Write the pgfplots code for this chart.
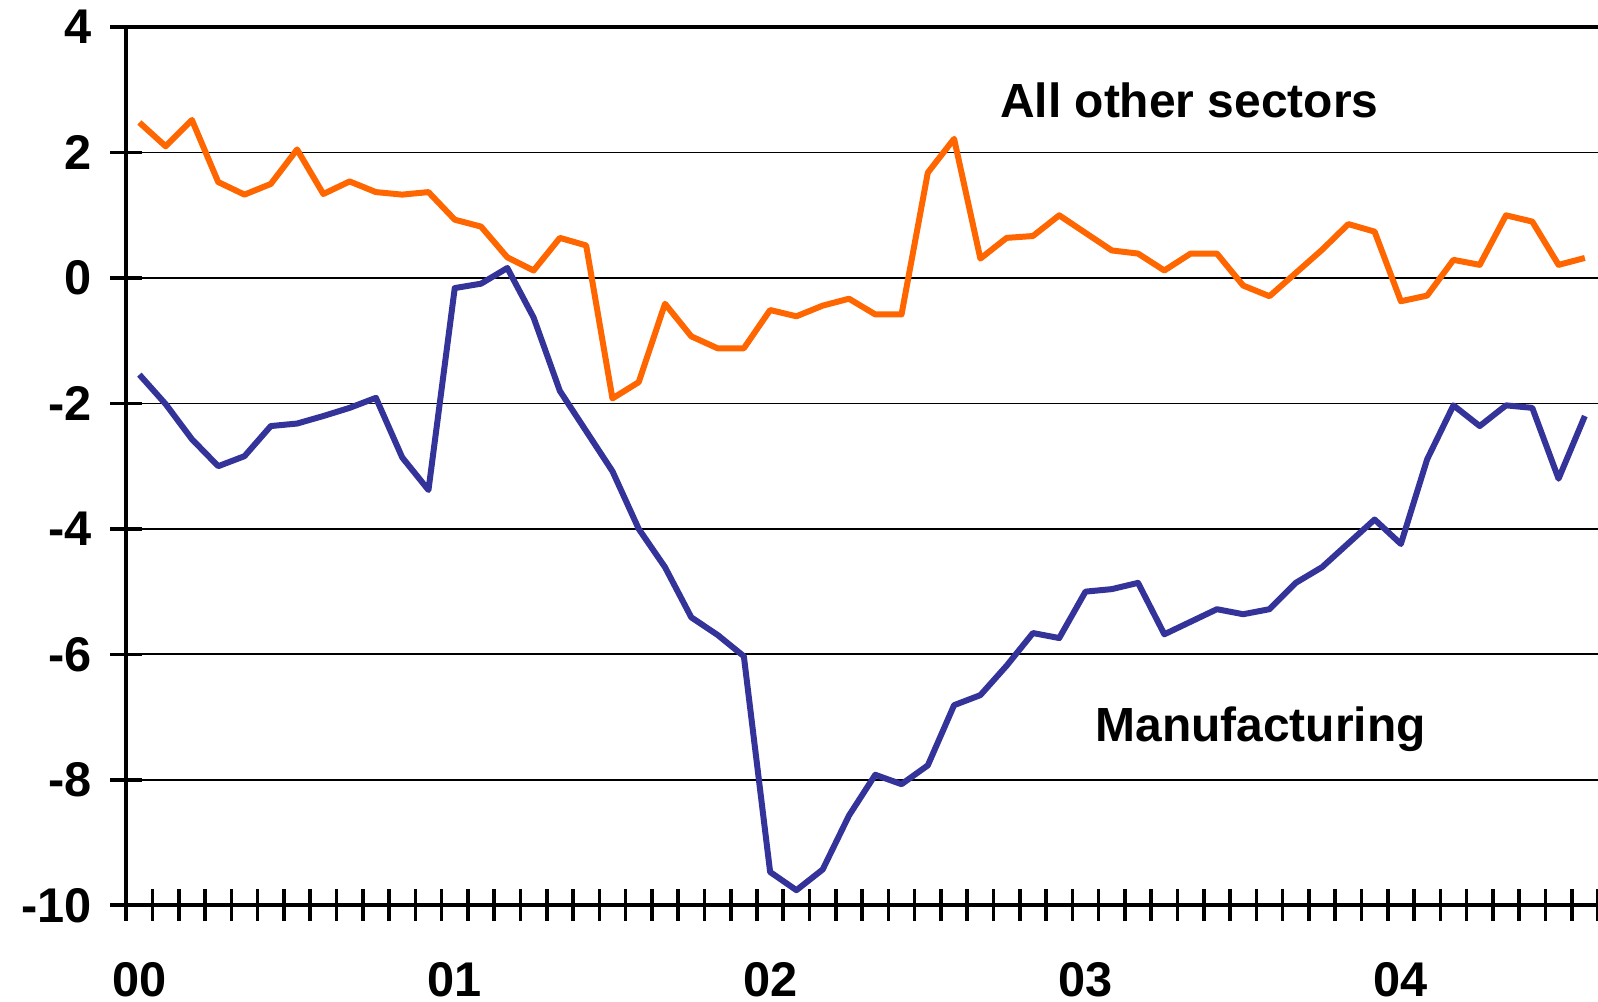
\documentclass[border=0pt]{standalone}
\usepackage{fontspec}
\setmainfont{Liberation Sans}
\usepackage{pgfplots}
\usepackage{pgfplotstable}
\pgfplotsset{compat=1.18}
\definecolor{mfgblue}{HTML}{333399}
\definecolor{otherorange}{HTML}{FF6600}

% month index (0 = Jan 2000), all other sectors, manufacturing
\pgfplotstableread{
m other mfg
0 2.48 -1.54
1 2.10 -2.01
2 2.52 -2.57
3 1.53 -3.00
4 1.33 -2.84
5 1.50 -2.36
6 2.05 -2.32
7 1.34 -2.20
8 1.54 -2.07
9 1.37 -1.91
10 1.33 -2.86
11 1.37 -3.38
12 0.93 -0.16
13 0.82 -0.09
14 0.33 0.16
15 0.12 -0.63
16 0.64 -1.80
17 0.52 -2.44
18 -1.92 -3.08
19 -1.66 -4.00
20 -0.41 -4.61
21 -0.93 -5.41
22 -1.12 -5.69
23 -1.12 -6.03
24 -0.51 -9.47
25 -0.61 -9.76
26 -0.44 -9.43
27 -0.33 -8.57
28 -0.58 -7.92
29 -0.58 -8.07
30 1.68 -7.77
31 2.22 -6.81
32 0.31 -6.65
33 0.64 -6.18
34 0.67 -5.66
35 1.00 -5.74
36 0.72 -5.00
37 0.44 -4.96
38 0.39 -4.86
39 0.12 -5.68
40 0.39 -5.48
41 0.39 -5.28
42 -0.12 -5.36
43 -0.29 -5.28
44 0.08 -4.86
45 0.45 -4.61
46 0.86 -4.23
47 0.74 -3.85
48 -0.37 -4.24
49 -0.28 -2.89
50 0.29 -2.03
51 0.21 -2.36
52 1.00 -2.03
53 0.90 -2.07
54 0.21 -3.20
55 0.32 -2.20
}\sectors

\begin{document}
\begin{tikzpicture}
\path[use as bounding box] (-31.6pt,-24.1pt) rectangle (368.4pt,226.6pt);
\begin{axis}[
 at={(0,0)}, anchor=south west,
 width=368.4pt, height=219.8pt, scale only axis,
 xmin=-0.5, xmax=55.5, ymin=-10, ymax=4,
 axis x line*=box, axis y line*=left,
 every outer x axis line/.append style={-},
 every outer y axis line/.append style={-},
 axis line style={line width=0.9pt},
 xtick pos=bottom, ytick pos=left,
 tick align=center,
 xtick={0,12,24,36,48}, xticklabels={00,01,02,03,04},
 minor xtick={-0.5,0.5,...,55.5},
 major x tick style={draw=none},
 minor x tick style={black, line width=0.9pt},
 minor tick length=8pt,
 ytick={-10,-8,...,4}, yticklabels={-10,-8,-6,-4,-2,0,2,4},
 major tick length=8pt,
 major y tick style={black, line width=0.9pt},
 ymajorgrids, major grid style={black, line width=0.45pt},
 ticklabel style={font=\fontsize{12.2}{14}\selectfont\bfseries},
 xticklabel style={anchor=north, inner sep=0pt, yshift=-10pt},
 yticklabel style={anchor=east, inner sep=0pt, xshift=-4.5pt},
]
\addplot[otherorange, line width=1.5pt, line join=round] table[x=m, y=other] {\sectors};
\addplot[mfgblue, line width=1.5pt, line join=round] table[x=m, y=mfg] {\sectors};
\node[font=\fontsize{12}{14}\selectfont\bfseries] at (axis cs:39.95,2.84) {All other sectors};
\node[font=\fontsize{12}{14}\selectfont\bfseries] at (axis cs:42.66,-7.2) {Manufacturing};
\end{axis}
\end{tikzpicture}
\end{document}
